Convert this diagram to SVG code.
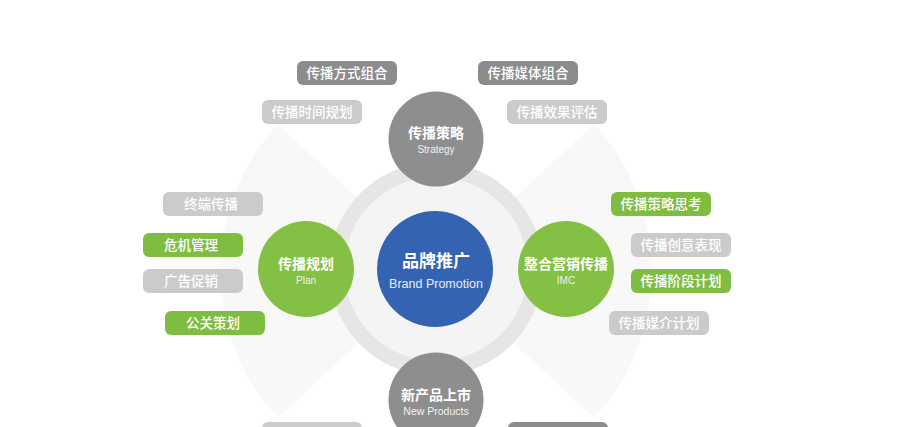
<svg xmlns="http://www.w3.org/2000/svg" width="905" height="427" viewBox="0 0 905 427">
<style>
.pill{rx:6;ry:6}
.pt{font-family:"Noto Sans CJK SC",sans-serif;font-size:13.5px;font-weight:500;fill:#fff;text-anchor:middle}
.dark{fill:#8c8c8c}
.light{fill:#cbcbcb}
.green{fill:#7fbd42}
.ct{font-family:"Liberation Sans","Noto Sans CJK SC",sans-serif;font-size:14px;font-weight:bold;fill:#fff;text-anchor:middle}
.cs{font-family:"Liberation Sans",sans-serif;font-size:10px;fill:#f2f2f2;text-anchor:middle}
</style>
<rect width="905" height="427" fill="#fff"/>
<g id="background">
  <path d="M436 271 L278 124 A216 216 0 0 0 278 418 Z" fill="#f8f8f8"/>
  <path d="M436 271 L594 124 A216 216 0 0 1 594 418 Z" fill="#f8f8f8"/>
  <circle cx="436" cy="269" r="92" fill="#f4f4f4"/>
  <circle cx="436" cy="269" r="99.5" fill="none" stroke="#e6e6e6" stroke-width="15"/>
</g>
<g id="connectors"></g>
<g id="center">
  <circle cx="435" cy="269" r="58" fill="#3463b1"/>
  <text x="436" y="267" class="ct" style="font-size:17px">品牌推广</text>
  <text x="436" y="288" class="cs" style="font-size:12.5px;fill:#e8eef8">Brand Promotion</text>
</g>
<g id="strategy">
  <circle cx="436" cy="139" r="47.5" fill="#8e8e8e"/>
  <text x="436" y="138" class="ct">传播策略</text>
  <text x="436" y="153" class="cs">Strategy</text>
</g>
<g id="plan">
  <circle cx="306" cy="269" r="48" fill="#84c043"/>
  <text x="306" y="269" class="ct">传播规划</text>
  <text x="306" y="284" class="cs">Plan</text>
</g>
<g id="imc">
  <circle cx="566" cy="269" r="48" fill="#84c043"/>
  <text x="566" y="269" class="ct">整合营销传播</text>
  <text x="566" y="284" class="cs">IMC</text>
</g>
<g id="newproducts">
  <circle cx="436" cy="400" r="47.5" fill="#8e8e8e"/>
  <text x="436" y="400" class="ct">新产品上市</text>
  <text x="436" y="415" class="cs" style="font-size:10.5px">New Products</text>
</g>
<g id="pill-fangshi"><rect class="pill dark" x="297" y="61" width="100" height="24"/><text class="pt" x="347" y="78">传播方式组合</text></g>
<g id="pill-shijian"><rect class="pill light" x="262" y="100" width="100" height="24"/><text class="pt" x="312" y="117">传播时间规划</text></g>
<g id="pill-meiti"><rect class="pill dark" x="478" y="61" width="100" height="24"/><text class="pt" x="528" y="78">传播媒体组合</text></g>
<g id="pill-xiaoguo"><rect class="pill light" x="507" y="100" width="100" height="24"/><text class="pt" x="557" y="117">传播效果评估</text></g>
<g id="pill-zhongduan"><rect class="pill light" x="163" y="192" width="100" height="24"/><text class="pt" x="211" y="209">终端传播</text></g>
<g id="pill-weiji"><rect class="pill green" x="143" y="233" width="100" height="24"/><text class="pt" x="191" y="250">危机管理</text></g>
<g id="pill-guanggao"><rect class="pill light" x="143" y="269" width="100" height="24"/><text class="pt" x="191" y="286">广告促销</text></g>
<g id="pill-gongguan"><rect class="pill green" x="165" y="311" width="100" height="24"/><text class="pt" x="213" y="328">公关策划</text></g>
<g id="pill-celue"><rect class="pill green" x="611" y="192" width="100" height="24"/><text class="pt" x="661" y="209">传播策略思考</text></g>
<g id="pill-chuangyi"><rect class="pill light" x="631" y="233" width="100" height="24"/><text class="pt" x="681" y="250">传播创意表现</text></g>
<g id="pill-jieduan"><rect class="pill green" x="631" y="269" width="100" height="24"/><text class="pt" x="681" y="286">传播阶段计划</text></g>
<g id="pill-meijie"><rect class="pill light" x="609" y="311" width="100" height="24"/><text class="pt" x="659" y="328">传播媒介计划</text></g>
<g id="pill-bottom-left"><rect class="pill light" x="262" y="422" width="100" height="24"/></g>
<g id="pill-bottom-right"><rect class="pill dark" x="508" y="422" width="100" height="24"/></g>
</svg>
